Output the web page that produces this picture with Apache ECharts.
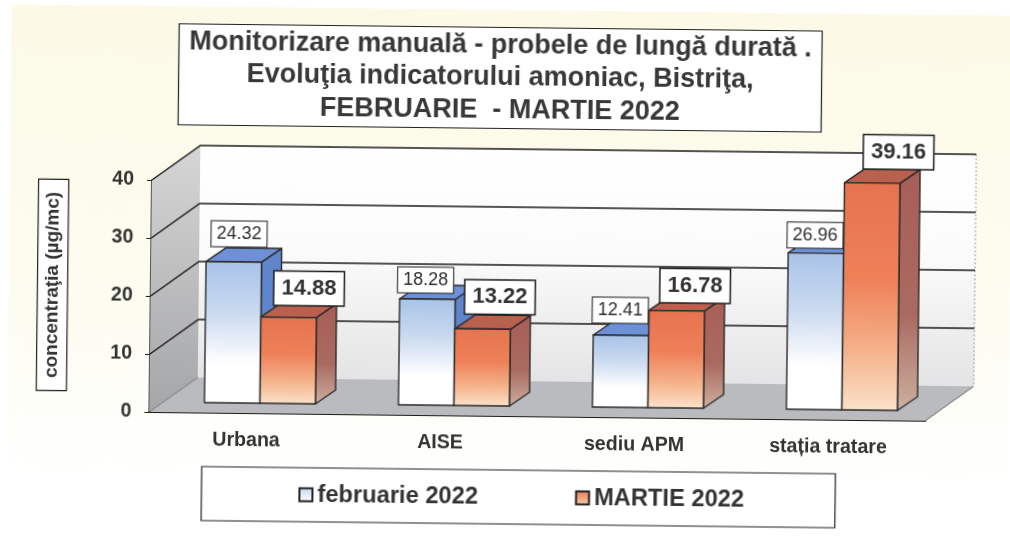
<!DOCTYPE html>
<html>
<head>
<meta charset="utf-8">
<title>Amoniac Bistrita</title>
<script src="https://cdn.jsdelivr.net/npm/echarts@6/dist/echarts.min.js"></script>
<style>
    html, body { margin: 0; padding: 0; background: #fff; overflow: hidden; }
    /* the scan is slightly crooked, so the whole chart is turned a little */
    #chart { width: 1010px; height: 536px; transform: rotate(0.65deg); }
</style>
</head>
<body>
<div id="chart"></div>
<script>
const categories = ['Urbana', 'AISE', 'sediu APM', 'stația tratare'];
const februarie = [24.32, 18.28, 12.41, 26.96];
const martie = [14.88, 13.22, 16.78, 39.16];
const yTicks = [0, 10, 20, 30, 40];

// labels were moved by hand in the original, offset from the top of the bar
const febLabelShift = [[5, -28], [-2, -19], [-1, -25], [-1, -18]];
const marLabelShift = [[20, -29], [17, -32], [18, -25], [26, -31]];

const FONT = '"Liberation Sans", Arial, sans-serif';
const DEPTH_X = 48, DEPTH_Y = -35;     // depth of the 3D box
const BAR_DX = 20, BAR_DY = -14;       // depth of a bar
const FLOOR_DX = 13.5, FLOOR_DY = -10; // bars stand a bit back on the floor
const BAR_W = 55.5;

const chart = echarts.init(document.getElementById('chart'));
const vGrad = (stops) => new echarts.graphic.LinearGradient(0, 0, 0, 1,
    stops.map(s => ({ offset: s[0], color: s[1] })));

const febFront = vGrad([[0, '#a8c3e8'], [0.35, '#c9d9ef'], [0.72, '#ffffff'], [1, '#ffffff']]);
const marFront = vGrad([[0, '#e6734f'], [0.42, '#ee8058'], [0.75, '#f5b48c'], [1, '#fbe2cb']]);
const febSide = '#5f86cc';
const marSide = vGrad([[0, '#a85e58'], [0.6, '#aa6a60'], [1, '#cdb0a0']]);

// back wall, side wall and floor
function renderWalls(params, api) {
    const g = params.coordSys;
    const x0 = g.x, x1 = g.x + g.width;
    const yTop = api.coord([0, yTicks[yTicks.length - 1]])[1];
    const yBot = api.coord([0, 0])[1];
    const poly = (pts, fill) => ({ type: 'polygon', shape: { points: pts }, style: { fill: fill }, silent: true });
    return {
        type: 'group',
        children: [
            poly([[x0 + DEPTH_X, yTop + DEPTH_Y], [x1 + DEPTH_X, yTop + DEPTH_Y], [x1 + DEPTH_X, yBot + DEPTH_Y], [x0 + DEPTH_X, yBot + DEPTH_Y]],
                vGrad([[0, '#ffffff'], [0.45, '#fbfbfb'], [1, '#e4e4e6']])),
            poly([[x0, yTop], [x0 + DEPTH_X, yTop + DEPTH_Y], [x0 + DEPTH_X, yBot + DEPTH_Y], [x0, yBot]],
                vGrad([[0, '#d6d6d6'], [1, '#a4a5a7']])),
            poly([[x0, yBot], [x0 + DEPTH_X, yBot + DEPTH_Y], [x1 + DEPTH_X, yBot + DEPTH_Y], [x1, yBot]], '#b9bbbe'),
            { type: 'line', shape: { x1: x1 + DEPTH_X, y1: yTop + DEPTH_Y, x2: x1 + DEPTH_X, y2: yBot + DEPTH_Y },
              style: { stroke: '#999', lineWidth: 1, lineDash: [2, 2] } },
            { type: 'line', shape: { x1: x1, y1: yBot, x2: x1 + DEPTH_X, y2: yBot + DEPTH_Y },
              style: { stroke: '#666', lineWidth: 1 } }
        ]
    };
}

// grid lines run along the side wall and then the back wall
function renderGridLine(params, api) {
    const g = params.coordSys;
    const y = api.coord([0, api.value(1)])[1];
    const isFloor = api.value(1) === 0;
    return {
        type: 'polyline',
        shape: {
            points: isFloor
                ? [[g.x, y], [g.x + DEPTH_X, y + DEPTH_Y]]
                : [[g.x, y], [g.x + DEPTH_X, y + DEPTH_Y], [g.x + g.width + DEPTH_X, y + DEPTH_Y]]
        },
        style: { stroke: isFloor ? '#777' : '#1c1c1c', lineWidth: isFloor ? 1 : 1.5, fill: null }
    };
}

function makeBarRender(side, front, topColor, sideColor, shifts, labelFont) {
    return function (params, api) {
        const i = api.value(0);
        const base = api.coord([i, 0]);
        const top = api.coord([i, api.value(1)]);
        const cx = base[0] + FLOOR_DX;
        const xl = side < 0 ? cx - BAR_W : cx;
        const xr = xl + BAR_W;
        const yb = base[1] + FLOOR_DY;
        const yt = top[1] + FLOOR_DY;
        const line = { stroke: '#2b2b2b', lineWidth: 1.4, lineJoin: 'round' };
        const s = shifts[params.dataIndex];
        return {
            type: 'group',
            children: [
                { type: 'polygon', shape: { points: [[xr, yt], [xr + BAR_DX, yt + BAR_DY], [xr + BAR_DX, yb + BAR_DY], [xr, yb]] },
                  style: Object.assign({ fill: sideColor }, line) },
                { type: 'polygon', shape: { points: [[xl, yt], [xl + BAR_DX, yt + BAR_DY], [xr + BAR_DX, yt + BAR_DY], [xr, yt]] },
                  style: Object.assign({ fill: topColor }, line) },
                { type: 'polygon', shape: { points: [[xl, yt], [xr, yt], [xr, yb], [xl, yb]] },
                  style: Object.assign({ fill: front }, line) },
                { type: 'text', z2: 50,
                  style: Object.assign({
                      x: (xl + xr) / 2 + s[0], y: yt + s[1],
                      text: api.value(1).toFixed(2),
                      align: 'center', verticalAlign: 'middle',
                      backgroundColor: '#fff', borderColor: '#1c1c1c'
                  }, labelFont) }
            ]
        };
    };
}

const febLabel = { font: '18px ' + FONT, fill: '#2e2e2e', borderWidth: 1, padding: [4, 5, 3, 5] };
const marLabel = { font: 'bold 22px ' + FONT, fill: '#333', borderWidth: 1.5, padding: [6, 7, 5, 7] };

const option = {
    animation: false,
    title: {
        text: 'Monitorizare manuală - probele de lungă durată .\nEvoluţia indicatorului amoniac, Bistriţa,\nFEBRUARIE  - MARTIE 2022',
        left: 488, top: 27, textAlign: 'center',
        backgroundColor: '#fff', borderColor: '#222', borderWidth: 1.2,
        padding: [2, 10, 2, 10],
        textStyle: { fontFamily: FONT, fontWeight: 'bold', fontSize: 27, lineHeight: 32.5, color: '#383838' }
    },
    legend: {
        data: ['februarie 2022', 'MARTIE 2022'],
        left: 204, top: 470,
        icon: 'rect', itemWidth: 13, itemHeight: 13, itemGap: 97,
        padding: [15, 91, 15, 97],
        backgroundColor: '#fff', borderColor: '#222', borderWidth: 1.2,
        textStyle: { fontFamily: FONT, fontWeight: 'bold', fontSize: 23.7, color: '#333' },
        selectedMode: false
    },
    grid: { left: 151, right: 83, top: 184, height: 232 },
    xAxis: {
        type: 'category',
        data: categories,
        axisLine: { lineStyle: { color: '#1c1c1c', width: 2 } },
        axisTick: { length: 5, lineStyle: { color: '#1c1c1c' } },
        axisLabel: { margin: 18, fontFamily: FONT, fontWeight: 'bold', fontSize: 19.6, color: '#333' }
    },
    yAxis: {
        type: 'value', min: 0, max: 40, interval: 10,
        axisLine: { show: true, lineStyle: { color: '#1c1c1c', width: 1.5 } },
        axisTick: { show: true, length: 5, lineStyle: { color: '#1c1c1c' } },
        splitLine: { show: false },
        axisLabel: { margin: 18, fontFamily: FONT, fontWeight: 'bold', fontSize: 19.5, color: '#333' }
    },
    graphic: [
        { type: 'rect', z: -10, silent: true, shape: { x: 9, y: 10, width: 1010, height: 530 },
          style: { fill: vGrad([[0, '#fcfae6'], [0.55, '#fdfcf0'], [0.9, '#ffffff'], [1, '#ffffff']]) } },
        { type: 'text', z: 10, x: 52.7, y: 290, rotation: Math.PI / 2,
          style: { text: 'concentraţia (µg/mc)', align: 'center', verticalAlign: 'middle',
                   font: 'bold 19px ' + FONT, fill: '#333',
                   backgroundColor: '#fff', borderColor: '#222', borderWidth: 1.2, padding: [5, 12, 5, 12] } }
    ],
    series: [
        { type: 'custom', z: 1, silent: true, renderItem: renderWalls, data: [[0, 40]] },
        { type: 'custom', z: 2, silent: true, renderItem: renderGridLine, data: yTicks.map(t => [0, t]) },
        { type: 'custom', z: 3, name: 'februarie 2022', renderItem: makeBarRender(-1, febFront, '#6d90d6', febSide, febLabelShift, febLabel),
          itemStyle: { color: vGrad([[0, '#c5d6ee'], [1, '#ffffff']]), borderColor: '#222', borderWidth: 1.4 },
          encode: { x: 0, y: 1 }, data: februarie.map((v, i) => [i, v]) },
        { type: 'custom', z: 4, name: 'MARTIE 2022', renderItem: makeBarRender(1, marFront, '#b9604f', marSide, marLabelShift, marLabel),
          itemStyle: { color: vGrad([[0, '#e9784f'], [1, '#f8cfae']]), borderColor: '#222', borderWidth: 1.4 },
          encode: { x: 0, y: 1 }, data: martie.map((v, i) => [i, v]) }
    ]
};
chart.setOption(option);
</script>
</body>
</html>
